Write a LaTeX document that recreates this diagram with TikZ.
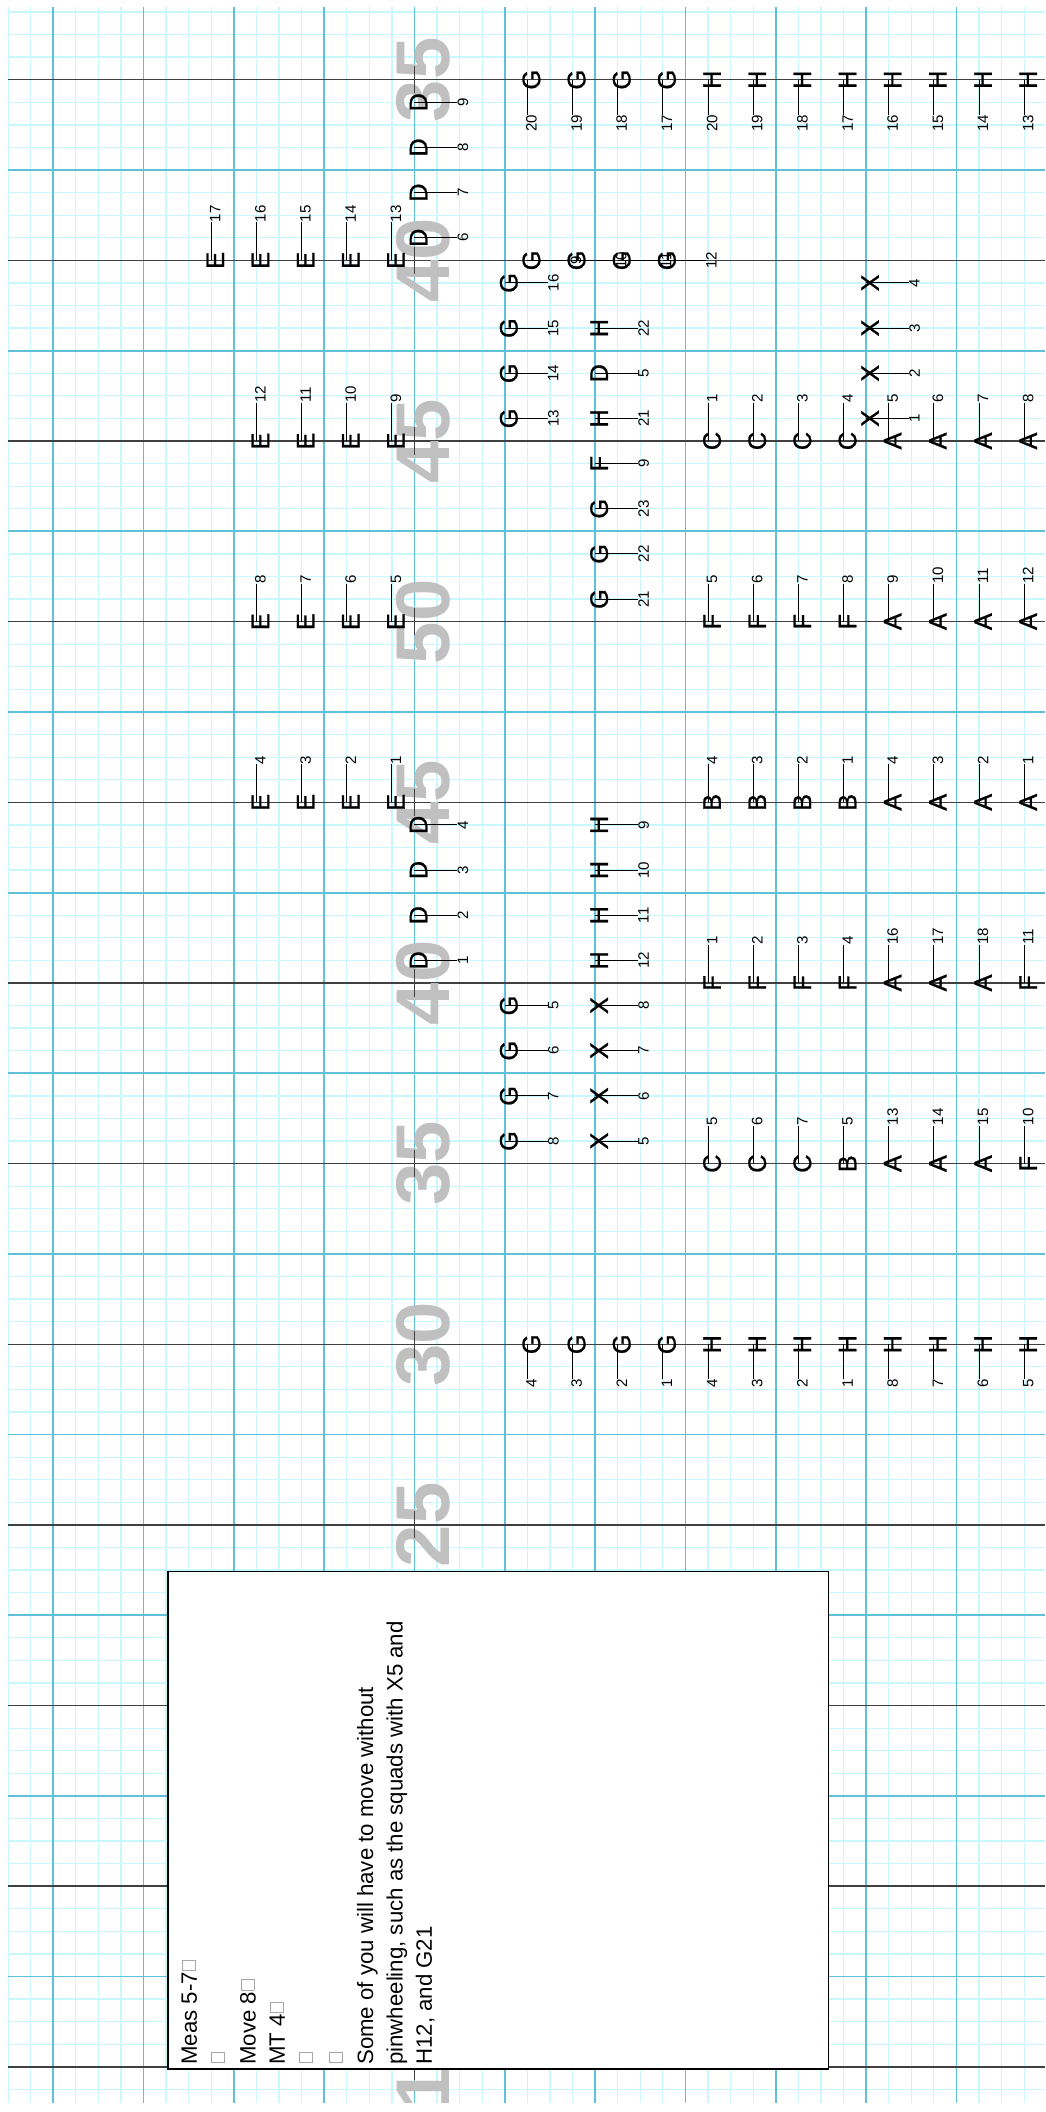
\documentclass[tikz,border=0pt]{standalone}
\usepackage{fontspec}
\setmainfont{Liberation Sans}
\newfontface\symbface{Liberation Sans}[FakeBold=0.8]
\definecolor{gridminor}{RGB}{200,248,252}
\definecolor{gridmajor}{RGB}{95,192,218}
\definecolor{yardgray}{RGB}{192,192,192}
% box of a missing glyph, as the notes show it
\newcommand{\tofu}{\kern1pt{\color{black!35}\fboxsep=0pt\fboxrule=0.45pt\raisebox{1.2pt}{\fbox{\rule{0pt}{7.8pt}\hspace{6pt}}}}\kern0.5pt}

\begin{document}
\begin{tikzpicture}[x=5mm,y=-5mm,
  minorln/.style={gridminor,line width=0.8pt},
  majorln/.style={gridmajor,line width=1.1pt},
  yardln/.style={black!75,line width=0.9pt},
  hashmk/.style={black!75,line width=1.1pt},
  yardnum/.style={rotate=90,text=yardgray,inner sep=0pt,font=\fontsize{48}{48}\selectfont\bfseries},
  symb/.style={rotate=90,inner sep=0pt,font=\symbface\fontsize{16}{16}\selectfont},
  tagnum/.style={rotate=90,inner sep=0pt,font=\fontsize{9.5}{9.5}\selectfont},
  leader/.style={line width=0.6pt},
  notebox/.style={draw,fill=white,line width=0.8pt},
  noteline/.style={rotate=90,anchor=base west,inner sep=0pt,font=\fontsize{14}{17}\selectfont}]

  \useasboundingbox (-0.354,-3.53) rectangle (45.93,90.0);

  % field grid, yard lines and numbers
  \begin{scope}
    \clip (0,-3.23) rectangle (45.93,89.6);
    \foreach \cx in {0,...,45} \draw[minorln] (\cx,-3.23) -- (\cx,89.6);
    \foreach \ry in {-3,...,89} \draw[minorln] (0,\ry) -- (45.93,\ry);
    \foreach \cx in {2,6,...,42} \draw[majorln] (\cx,-3.23) -- (\cx,89.6);
    \foreach \ry in {4,12,...,84} \draw[majorln] (0,\ry) -- (45.93,\ry);
    \foreach \ry in {0,8,...,88} \draw[yardln] (0,\ry) -- (45.93,\ry);
    \foreach \yd [count=\k from 0] in {35,40,45,50,45,40,35,30,25,20,15,10}
      \node[yardnum] (yard\k) at (18.41,8*\k) {\yd};
    \foreach \ry in {0,8,...,88} \draw[hashmk] (18,\ry-0.6) -- (18,\ry+0.6);
  \end{scope}

  % marchers, number above
  \foreach \cx/\ry/\sy/\nm in {
    9/8/E/17, 11/8/E/16, 13/8/E/15, 15/8/E/14, 17/8/E/13,
    11/16/E/12, 13/16/E/11, 15/16/E/10, 17/16/E/9,
    31/16/C/1, 33/16/C/2, 35/16/C/3, 37/16/C/4,
    39/16/A/5, 41/16/A/6, 43/16/A/7, 45/16/A/8,
    11/24/E/8, 13/24/E/7, 15/24/E/6, 17/24/E/5,
    31/24/F/5, 33/24/F/6, 35/24/F/7, 37/24/F/8,
    39/24/A/9, 41/24/A/10, 43/24/A/11, 45/24/A/12,
    11/32/E/4, 13/32/E/3, 15/32/E/2, 17/32/E/1,
    31/32/B/4, 33/32/B/3, 35/32/B/2, 37/32/B/1,
    39/32/A/4, 41/32/A/3, 43/32/A/2, 45/32/A/1,
    31/40/F/1, 33/40/F/2, 35/40/F/3, 37/40/F/4,
    39/40/A/16, 41/40/A/17, 43/40/A/18, 45/40/F/11,
    31/48/C/5, 33/48/C/6, 35/48/C/7, 37/48/B/5,
    39/48/A/13, 41/48/A/14, 43/48/A/15, 45/48/F/10}
  {
    \coordinate (\sy\nm) at (\cx,\ry);
    \node[symb] (\sy\nm L) at (\cx+0.18,\ry) {\sy};
    \node[tagnum,anchor=west] (\sy\nm N) at (\cx+0.18,\ry-1.68) {\nm};
    \draw[leader] (\sy\nm) -- (\sy\nm |- \sy\nm N.west);
  }

  % marchers, number below
  \foreach \cx/\ry/\sy/\nm in {
    23/0/G/20, 25/0/G/19, 27/0/G/18, 29/0/G/17,
    31/0/H/20, 33/0/H/19, 35/0/H/18, 37/0/H/17,
    39/0/H/16, 41/0/H/15, 43/0/H/14, 45/0/H/13,
    23/56/G/4, 25/56/G/3, 27/56/G/2, 29/56/G/1,
    31/56/H/4, 33/56/H/3, 35/56/H/2, 37/56/H/1,
    39/56/H/8, 41/56/H/7, 43/56/H/6, 45/56/H/5}
  {
    \coordinate (\sy\nm) at (\cx,\ry);
    \node[symb] (\sy\nm L) at (\cx+0.18,\ry) {\sy};
    \node[tagnum,anchor=east] (\sy\nm N) at (\cx+0.18,\ry+1.55) {\nm};
    \draw[leader] (\sy\nm) -- (\sy\nm |- \sy\nm N.east);
  }

  % marchers, number to the right
  \foreach \cx/\ry/\sy/\nm in {
    18/1/D/9, 18/3/D/8, 18/5/D/7, 18/7/D/6,
    23/8/G/9, 25/8/G/10, 27/8/G/11, 29/8/G/12,
    22/9/G/16, 22/11/G/15, 22/13/G/14, 22/15/G/13,
    26/11/H/22, 26/13/D/5, 26/15/H/21, 26/17/F/9,
    26/19/G/23, 26/21/G/22, 26/23/G/21,
    38/9/X/4, 38/11/X/3, 38/13/X/2, 38/15/X/1,
    18/33/D/4, 18/35/D/3, 18/37/D/2, 18/39/D/1,
    26/33/H/9, 26/35/H/10, 26/37/H/11, 26/39/H/12,
    22/41/G/5, 22/43/G/6, 22/45/G/7, 22/47/G/8,
    26/41/X/8, 26/43/X/7, 26/45/X/6, 26/47/X/5}
  {
    \coordinate (\sy\nm) at (\cx,\ry);
    \node[symb] (\sy\nm L) at (\cx+0.18,\ry) {\sy};
    \node[tagnum,anchor=north] (\sy\nm N) at (\cx+1.9,\ry) {\nm};
    \draw[leader] (\sy\nm) -- (\sy\nm -| \sy\nm N.north);
  }

  % notes
  \draw[notebox] (7.09,66.07) rectangle (36.35,88.1);
  \foreach \txt [count=\k] in {Meas 5-7\tofu, \tofu, Move 8\tofu, MT 4\tofu, \tofu, \tofu,
      Some of you will have to move without,
      {pinwheeling, such as the squads with X5 and},
      {H12, and G21}}
    \node[noteline] (note\k) at ({8.36+1.302*(\k-1)},87.92) {\txt};
\end{tikzpicture}
\end{document}
